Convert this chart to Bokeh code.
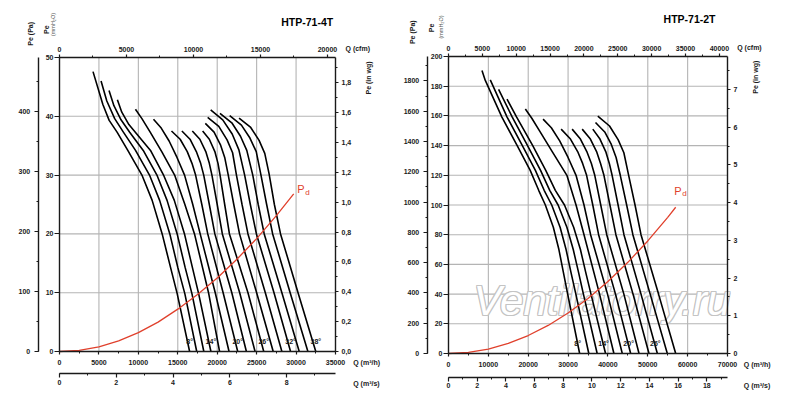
from math import pi

from bokeh.core.properties import value
from bokeh.embed import file_html
from bokeh.layouts import row
from bokeh.models import (ColumnDataSource, CustomJSTickFormatter, Label, LinearAxis,
                          NumeralTickFormatter, Range1d, SingleIntervalTicker)
from bokeh.plotting import figure
from bokeh.resources import INLINE

FONT = "Liberation Sans"
INK = "#1a1a1a"
GRID = "#b4b4b4"
RED = "#e0402c"

PA_PER_MMH2O = 9.80665
MMH2O_PER_INWG = 25.4
M3H_PER_CFM = 1.699
M3H_PER_M3S = 3600.0

# HTP-71-4T : one curve per blade angle 8..38 deg (Q in m3/h, Pe in mmH2O)
angles_4t = ["8°", "14°", "20°", "26°", "32°", "38°"]
q_4t = [
    [4250, 5500, 6300, 7300, 8660, 10490, 11750, 13020, 14080, 14930, 16500],
    [5270, 6000, 7000, 8100, 9640, 11450, 12700, 13990, 15000, 15900, 17400],
    [6280, 6900, 7800, 8900, 10620, 12390, 13640, 14920, 15930, 16800, 18300],
    [7340, 7900, 8800, 9800, 11540, 13230, 14560, 15850, 16850, 17650, 19200],
    [9630, 10450, 11500, 13000, 14600, 15900, 17120, 18900, 20300],
    [11920, 12900, 13900, 14900, 15860, 16900, 17840, 19750, 21500],
    [14200, 15300, 16200, 16800, 17260, 18050, 18800, 20750, 22600],
    [15520, 16550, 17350, 17900, 18290, 19000, 19700, 21850, 23700],
    [16840, 17800, 18550, 19000, 19330, 20000, 20650, 22850, 24800],
    [18150, 19000, 19700, 20100, 20360, 20950, 21550, 23900, 25900],
    [18490, 19600, 20400, 20950, 21400, 22100, 22830, 25000, 27100],
    [18790, 20200, 21250, 21950, 22440, 23150, 23900, 26100, 28200],
    [19170, 20700, 21900, 22750, 23480, 24200, 24970, 27200, 29300],
    [20350, 21850, 22950, 23750, 24510, 25200, 25960, 28200, 30400],
    [21580, 23070, 24150, 24950, 25550, 26270, 27030, 29250, 31500],
    [22770, 24250, 25310, 26030, 26580, 27250, 28030, 30250, 32500],
]
p_4t = [
    [47.6, 42.0, 39.3, 37.3, 34.2, 29.9, 25.7, 20.0, 14.3, 9.8, 0],
    [46.0, 42.6, 39.6, 37.3, 34.2, 29.9, 25.7, 20.0, 14.3, 9.8, 0],
    [44.4, 41.8, 39.4, 37.3, 34.2, 29.9, 25.7, 20.0, 14.3, 9.8, 0],
    [42.8, 40.7, 38.6, 37.0, 34.2, 29.9, 25.7, 20.0, 14.3, 9.8, 0],
    [41.2, 39.6, 37.3, 33.9, 30.0, 25.0, 20.0, 10.0, 0],
    [39.5, 38.0, 35.8, 33.0, 30.0, 25.0, 20.0, 10.0, 0],
    [37.5, 36.1, 34.0, 32.0, 30.0, 25.0, 20.0, 10.0, 0],
    [37.5, 36.1, 34.0, 32.0, 30.0, 25.0, 20.0, 10.0, 0],
    [37.5, 36.1, 34.0, 32.0, 30.0, 25.0, 20.0, 10.0, 0],
    [37.5, 36.1, 34.0, 32.0, 30.0, 25.0, 20.0, 10.0, 0],
    [38.8, 37.3, 35.2, 33.0, 30.0, 25.0, 20.0, 10.0, 0],
    [39.8, 38.3, 36.0, 33.8, 30.0, 25.0, 20.0, 10.0, 0],
    [41.1, 39.4, 37.0, 34.3, 30.0, 25.0, 20.0, 10.0, 0],
    [40.5, 38.9, 36.6, 34.2, 30.0, 25.0, 20.0, 10.0, 0],
    [40.1, 38.5, 36.3, 34.0, 30.0, 25.0, 20.0, 10.0, 0],
    [39.7, 38.1, 35.9, 33.7, 30.2, 25.0, 20.0, 10.0, 0],
]
pd_q_4t = [0, 2500, 5000, 7500, 10000, 12500, 15000, 17500, 20000, 22500, 25000, 27500, 29700]
pd_p_4t = [0, 0.2, 0.8, 1.8, 3.2, 5.0, 7.2, 9.7, 12.5, 15.7, 19.2, 23.1, 26.8]

# HTP-71-2T : blade angles 8..30 deg
angles_2t = ["8°", "14°", "20°", "26°"]
q_2t = [
    [8400, 9230, 13400, 17200, 20500, 22630, 24300, 26300, 27700, 28800, 29900, 32900],
    [10480, 14700, 18500, 21800, 24000, 25900, 28000, 29500, 30700, 31950, 35200],
    [12570, 16000, 19800, 23100, 25400, 27500, 29700, 31300, 32600, 33850, 37300],
    [14680, 17100, 21100, 24400, 26800, 29100, 31400, 33100, 34400, 35750, 39400],
    [19280, 20900, 23000, 26100, 29700, 32000, 34000, 37900, 41500],
    [23730, 25800, 27900, 30000, 32000, 34000, 35650, 39900, 43600],
    [28260, 30600, 32400, 33650, 34650, 36200, 37660, 41900, 45700],
    [31020, 33100, 34700, 35850, 36700, 38200, 39700, 44000, 47800],
    [33540, 35600, 37150, 38150, 39000, 40500, 42000, 46300, 50300],
    [36200, 38000, 39450, 40350, 41050, 42550, 44020, 48300, 52400],
    [36880, 39200, 40850, 42050, 43100, 44700, 46260, 50600, 54900],
    [37460, 40400, 42550, 44000, 45200, 46800, 48300, 52700, 57000],
]
p_2t = [
    [190.6, 183.9, 159.2, 140.1, 123.3, 109.9, 100, 85, 70, 55, 40, 0],
    [184.3, 159.2, 140.1, 123.3, 109.9, 100, 85, 70, 55, 40, 0],
    [177.8, 159.2, 140.1, 123.3, 109.9, 100, 85, 70, 55, 40, 0],
    [171.3, 159.2, 140.1, 123.3, 109.9, 100, 85, 70, 55, 40, 0],
    [164.6, 158.4, 149.2, 135.6, 120, 100, 80, 40, 0],
    [157.8, 152.0, 143.2, 132.0, 120, 100, 80, 40, 0],
    [151.1, 144.4, 136.0, 128.0, 120, 100, 80, 40, 0],
    [151.1, 144.4, 136.0, 128.0, 120, 100, 80, 40, 0],
    [151.1, 144.4, 136.0, 128.0, 120, 100, 80, 40, 0],
    [151.1, 144.4, 136.0, 128.0, 120, 100, 80, 40, 0],
    [155.6, 149.2, 140.8, 132.0, 120, 100, 80, 40, 0],
    [159.8, 153.2, 144.0, 135.2, 120, 100, 80, 40, 0],
]
pd_q_2t = [0, 5000, 10000, 15000, 20000, 25000, 30000, 35000, 40000, 45000, 50000, 55000, 57000]
pd_p_2t = [0, 0.8, 3.0, 6.8, 12.1, 18.9, 27.3, 37.1, 48.5, 61.4, 75.8, 91.7, 98.5]


def style(ax, interval, minor, tick_out, standoff, fmt=None):
    ax.ticker = SingleIntervalTicker(interval=interval, num_minor_ticks=2)
    ax.formatter = fmt or NumeralTickFormatter(format="0")
    ax.axis_line_color = INK
    ax.axis_line_width = 1.4
    ax.major_tick_line_color = INK
    ax.major_tick_line_width = 1.2
    ax.major_tick_in = 0
    ax.major_tick_out = tick_out
    ax.minor_tick_line_color = INK if minor else None
    ax.minor_tick_in = 0
    ax.minor_tick_out = 2
    ax.major_label_standoff = standoff
    ax.major_label_text_font = FONT
    ax.major_label_text_font_style = "bold"
    ax.major_label_text_font_size = "7px"
    ax.major_label_text_color = INK


def chart(q_curves, p_curves, pd_q, pd_p, angles, fig_x, frame, q_max, p_max, q_step,
          p_step, pa_step, wg_step, wg_fmt, pa_px, m3s_py, texts, pd_at, mark=None,
          label_dx=0):
    # frame = page pixels of the plotting box (left, right, top, bottom); the figure's own
    # frame fills the whole canvas, so the ranges are widened to put the data box there
    fl, fr, ft, fb = frame
    qpp = q_max / (fr - fl)
    ppp = p_max / (fb - ft)
    q_lo, q_hi = -(fl - fig_x) * qpp, q_max + (fig_x + 400 - fr) * qpp
    p_lo, p_hi = -(408 - fb) * ppp, p_max + ft * ppp

    def at(px, py):
        return (px - fl) * qpp, (fb - py) * ppp

    f = figure(width=400, height=408, x_range=Range1d(q_lo, q_hi), y_range=Range1d(p_lo, p_hi),
               toolbar_location=None, output_backend="svg", x_axis_location=None,
               y_axis_location=None, min_border=0)
    f.outline_line_color = None
    f.background_fill_color = "white"
    f.border_fill_color = "white"
    f.grid.visible = False

    f.extra_y_ranges = {"pa": Range1d(p_lo * PA_PER_MMH2O, p_hi * PA_PER_MMH2O),
                        "wg": Range1d(p_lo / MMH2O_PER_INWG, p_hi / MMH2O_PER_INWG)}
    f.extra_x_ranges = {"m3s": Range1d(q_lo / M3H_PER_M3S, q_hi / M3H_PER_M3S),
                        "cfm": Range1d(q_lo / M3H_PER_CFM, q_hi / M3H_PER_CFM)}

    # grid
    gq = list(range(q_step, q_max, q_step))
    gp = list(range(p_step, p_max, p_step))
    f.segment(gq, [0] * len(gq), gq, [p_max] * len(gq), line_color=GRID, line_width=1.1)
    f.segment([0] * len(gp), gp, [q_max] * len(gp), gp, line_color=GRID, line_width=1.1)

    axes = [
        (LinearAxis(fixed_location=0, bounds=(0, p_max)), "left", (p_step, False, 5, 1, None)),
        (LinearAxis(y_range_name="pa", fixed_location=at(pa_px, 0)[0],
                    bounds=(0, p_max * PA_PER_MMH2O)), "left", (pa_step, True, 4, 4, None)),
        (LinearAxis(y_range_name="wg", fixed_location=q_max,
                    bounds=(0, p_max / MMH2O_PER_INWG)), "right", (wg_step, True, 3, 3, wg_fmt)),
        (LinearAxis(fixed_location=0, bounds=(0, q_max)), "below", (q_step, True, 3, 5, None)),
        (LinearAxis(x_range_name="m3s", fixed_location=at(0, m3s_py)[1],
                    bounds=(0, q_max / M3H_PER_M3S)), "below", (2, True, 4, 2, None)),
        (LinearAxis(x_range_name="cfm", fixed_location=p_max,
                    bounds=(0, q_max / M3H_PER_CFM)), "above", (5000, True, 3, 3, None)),
    ]
    for ax, side, (step, minor, tick_out, standoff, fmt) in axes:
        style(ax, step, minor, tick_out, standoff, fmt)
        f.add_layout(ax, side)

    if mark:
        # outlined watermark: grey copies shifted by one pixel, white on top
        t, px, py = mark
        x, y = at(px, py)
        for dx, dy in [(-1, -1), (-1, 0), (-1, 1), (0, -1), (0, 1), (1, -1), (1, 0), (1, 1), (0, 0)]:
            f.text([x], [y], text=[t], x_offset=dx, y_offset=dy,
                   text_color="white" if (dx, dy) == (0, 0) else "#c4c4c4",
                   text_align="center", text_baseline="middle", text_font=value(FONT),
                   text_font_style="italic", text_font_size=value("42px"))

    src = ColumnDataSource(dict(q=q_curves, p=p_curves))
    f.multi_line("q", "p", source=src, line_color="black", line_width=1.6)
    f.line(pd_q, pd_p, line_color=RED, line_width=1.3)

    ends = [c[-1] for c in q_curves[::3]]
    f.text(ends, [0] * len(ends), text=angles, x_offset=label_dx, y_offset=-10,
           text_align="center", text_baseline="middle", text_font=value(FONT),
           text_font_style="bold", text_font_size=value("7px"), text_color=INK)

    # P_d tag at the end of the dynamic pressure line
    px, py = pd_at
    for t, dx, dy, size in [("P", 0, 0, "11px"), ("d", 6.5, 3.4, "8px")]:
        x, y = at(px + dx, py + dy)
        f.add_layout(Label(x=x, y=y, text=t, text_align="center", text_baseline="middle",
                           text_font=FONT, text_font_size=size, text_color=RED))

    for t, px, py, align, ang, size, fstyle, color in texts:
        x, y = at(px, py)
        f.add_layout(Label(x=x, y=y, text=t, text_align=align, text_baseline="middle",
                           angle=ang, text_font=FONT, text_font_size=size,
                           text_font_style=fstyle, text_color=color))
    return f


comma = CustomJSTickFormatter(code="return tick.toFixed(1).replace('.', ',');")

texts_4t = [
    ("HTP-71-4T", 332.7, 21.3, "right", 0, "10.5px", "bold", "black"),
    ("Pe (Pa)", 29.7, 33.3, "center", pi / 2, "7px", "bold", INK),
    ("Pe", 46.3, 29.2, "center", pi / 2, "7px", "bold", INK),
    ("(mmH₂O)", 52.2, 24.0, "center", pi / 2, "5.5px", "normal", "#555555"),
    ("Q (cfm)", 345, 47.7, "left", 0, "7px", "bold", INK),
    ("Pe (in wg)", 368, 77.5, "center", pi / 2, "7px", "bold", INK),
    ("Q (m³/h)", 352.7, 362.3, "left", 0, "7px", "bold", INK),
    ("Q (m³/s)", 352.7, 382.7, "left", 0, "7px", "bold", INK),
]
texts_2t = [
    ("HTP-71-2T", 715, 18.3, "right", 0, "10.5px", "bold", "black"),
    ("Pe (Pa)", 412.2, 31.7, "center", pi / 2, "7px", "bold", INK),
    ("Pe", 430.8, 27.5, "center", pi / 2, "7px", "bold", INK),
    ("(mmH₂O)", 440.5, 26.5, "center", pi / 2, "5.5px", "normal", "#555555"),
    ("Q (cfm)", 736.7, 46.7, "left", 0, "7px", "bold", INK),
    ("Pe (in wg)", 755, 76.7, "center", pi / 2, "7px", "bold", INK),
    ("Q (m³/h)", 743.3, 364, "left", 0, "7px", "bold", INK),
    ("Q (m³/s)", 743.3, 385, "left", 0, "7px", "bold", INK),
]

left = chart(q_4t, p_4t, pd_q_4t, pd_p_4t, angles_4t, 0, (59, 335, 57, 351), 35000, 50,
             5000, 10, 100, 0.2, comma, 37.7, 373.3, texts_4t, (300.5, 188.5))
right = chart(q_2t, p_2t, pd_q_2t, pd_p_2t, angles_2t, 400, (448, 727, 56, 353), 70000, 200,
              10000, 20, 200, 1, NumeralTickFormatter(format="0"), 426.7, 376.7, texts_2t,
              (677.5, 190.0), mark=("Ventilatorry.ru", 601.5, 300), label_dx=-2)

page = row(left, right)
open("out.html", "w").write(file_html(page, INLINE))
